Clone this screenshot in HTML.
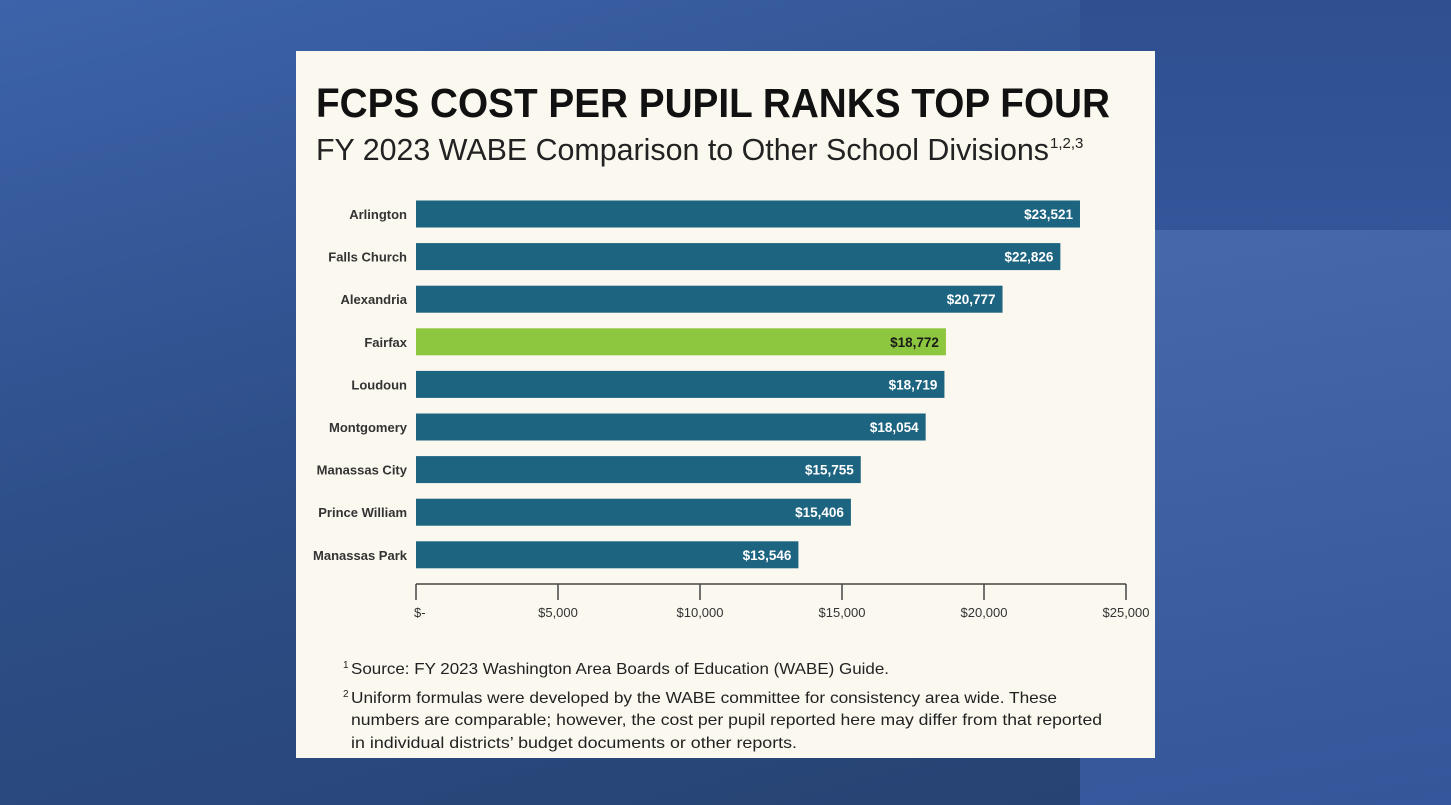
<!DOCTYPE html>
<html><head><meta charset="utf-8"><style>
html,body{margin:0;padding:0;width:1451px;height:805px;overflow:hidden;}
body{background:linear-gradient(165deg,#3d63aa 0%,#2d4e88 45%,#26416f 100%);position:relative;font-family:"Liberation Sans",sans-serif;}
#rp1{position:absolute;left:1080px;top:0;width:371px;height:230px;background:linear-gradient(180deg,#2f4f90,#33569a);}
#rp2{position:absolute;left:1080px;top:230px;width:371px;height:575px;background:linear-gradient(170deg,#4769ab,#3a5ea0 60%,#34569a);}
svg{position:absolute;left:0;top:0;}
</style></head><body>
<div id="rp1"></div>
<div id="rp2"></div>
<svg width="1451" height="805" id="chart">
<rect x="296" y="51" width="859" height="707" fill="#fbf8ef"/>
<text x="316" y="117" font-size="41" font-weight="bold" fill="#111" textLength="794" lengthAdjust="spacingAndGlyphs">FCPS COST PER PUPIL RANKS TOP FOUR</text>
<text x="316" y="160" font-size="31" fill="#222" textLength="733" lengthAdjust="spacingAndGlyphs">FY 2023 WABE Comparison to Other School Divisions</text>
<text x="1050" y="148" font-size="15" fill="#222">1,2,3</text>
<g id="bars"></g>
<g id="axis"></g>
<g font-size="16" fill="#222">
<text x="343" y="668" font-size="10">1</text><text x="351" y="674" textLength="538" lengthAdjust="spacingAndGlyphs">Source: FY 2023 Washington Area Boards of Education (WABE) Guide.</text>
<text x="343" y="697" font-size="10">2</text><text x="351" y="703" textLength="706" lengthAdjust="spacingAndGlyphs">Uniform formulas were developed by the WABE committee for consistency area wide. These</text>
<text x="351" y="725" textLength="751" lengthAdjust="spacingAndGlyphs">numbers are comparable; however, the cost per pupil reported here may differ from that reported</text>
<text x="351" y="748" textLength="446" lengthAdjust="spacingAndGlyphs">in individual districts’ budget documents or other reports.</text>
</g>
</svg>
<script>
const categories=["Arlington","Falls Church","Alexandria","Fairfax","Loudoun","Montgomery","Manassas City","Prince William","Manassas Park"];
const values=[23521,22826,20777,18772,18719,18054,15755,15406,13546];
const valueLabels=["$23,521","$22,826","$20,777","$18,772","$18,719","$18,054","$15,755","$15,406","$13,546"];
const tickValues=[0,5000,10000,15000,20000,25000];
const tickLabels=["$-","$5,000","$10,000","$15,000","$20,000","$25,000"];
const highlight="Fairfax";
const NS="http://www.w3.org/2000/svg";
const x=v=>416+v*(1126-416)/25000;
const yc=i=>214+i*42.6;
const bh=27;
function mk(t,a,p){const e=document.createElementNS(NS,t);for(const k in a)e.setAttribute(k,a[k]);p.appendChild(e);return e;}
const bars=document.getElementById('bars');
categories.forEach((c,i)=>{
  const hi=c===highlight;
  const r=mk('rect',{x:x(0),y:yc(i)-bh/2,width:(x(values[i])-x(0))*0.994,height:bh,fill:hi?'#8dc63f':'#1c6480'},bars);
  
  
  const l=mk('text',{x:407,y:yc(i)+5,'text-anchor':'end','font-size':13,'font-weight':'bold',fill:'#333'},bars);
  l.textContent=c;
  
  
  const v=mk('text',{x:x(0)+(x(values[i])-x(0))*0.994-7,y:yc(i)+5,'text-anchor':'end','font-size':13.5,'font-weight':'bold',fill:hi?'#1a1a1a':'#fff'},bars);
  v.textContent=valueLabels[i];
  
  
});
const ax=document.getElementById('axis');
const line=mk('line',{x1:x(0),x2:x(25000),y1:584,y2:584,stroke:'#444','stroke-width':1.5},ax);


tickValues.forEach((t,i)=>{
  const tk=mk('line',{x1:x(t),x2:x(t),y1:584,y2:600,stroke:'#444','stroke-width':1.5},ax);
  
  
  const tl=mk('text',{x:i===0?x(t)-2:x(t),y:617,'text-anchor':i===0?'start':'middle','font-size':13,fill:'#333'},ax);
  tl.textContent=tickLabels[i];
  
  
});
</script>
</body></html>
